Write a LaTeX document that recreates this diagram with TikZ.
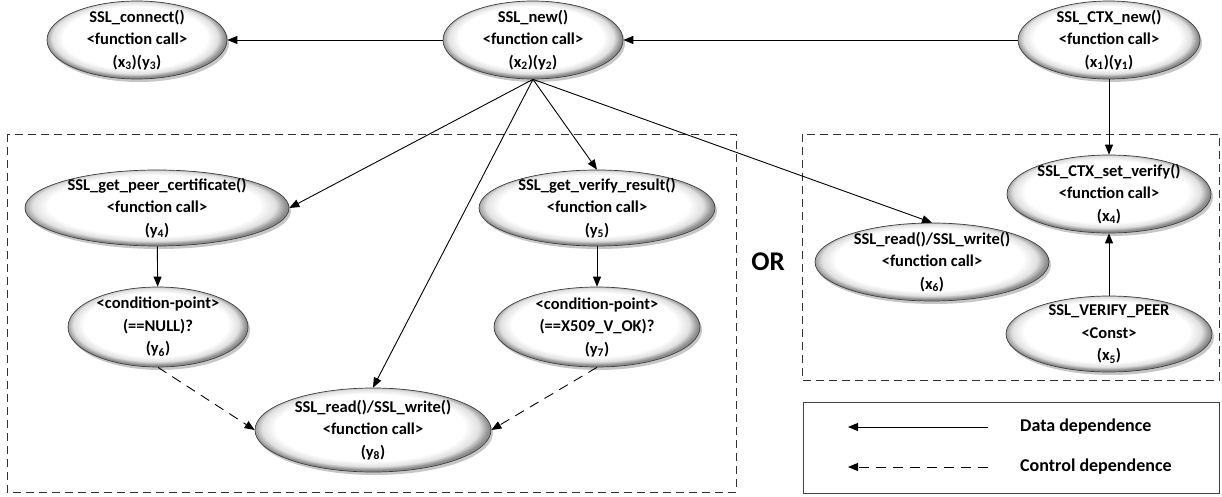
\documentclass[tikz,border=0pt]{standalone}
\usepackage{fontspec}
\setmainfont{Carlito}
\usetikzlibrary{arrows.meta,shapes.geometric,shadows}
\pgfdeclareradialshading{rimshade}{\pgfpoint{-1bp}{2.5bp}}{color(0bp)=(white); color(20bp)=(white); color(23bp)=(black!12); color(25bp)=(black!45); color(50bp)=(black!45)}
\begin{document}
\begin{tikzpicture}[x=1pt,y=-1pt,
  fn/.style={ellipse, shade, shading=rimshade, draw=black!75, line width=0.7pt, inner sep=-45pt, align=center,
    font=\bfseries\fontsize{16.5}{22.5}\selectfont,
    drop shadow={shadow xshift=2pt, shadow yshift=-3pt, opacity=0.45}},
  dep/.style={line width=0.9pt, -{Triangle[length=10pt,width=8pt]}},
  ctl/.style={dep, dash pattern=on 10pt off 7pt},
  region/.style={line width=0.9pt, black!80, dash pattern=on 8pt off 5pt},
  lab/.style={font=\bfseries\fontsize{18}{21}\selectfont, anchor=west, inner sep=0pt}]
\useasboundingbox (0,0) rectangle (1222,497);

% regions
\draw[region] (7,134) rectangle (736,492);
\draw[region] (802,134) rectangle (1219,380);
\draw[line width=0.9pt, black!75] (803,402) rectangle (1219,493);

% nodes
\node[fn, minimum width=180pt, minimum height=78pt] (connect) at (137,40) {SSL\_connect()\\<function call>\\(x\textsubscript{3})(y\textsubscript{3})};
\node[fn, minimum width=180pt, minimum height=78pt] (new) at (533,40) {SSL\_new()\\<function call>\\(x\textsubscript{2})(y\textsubscript{2})};
\node[fn, minimum width=182pt, minimum height=78pt] (ctxnew) at (1109,40) {SSL\_CTX\_new()\\<function call>\\(x\textsubscript{1})(y\textsubscript{1})};

\node[fn, minimum width=264pt, minimum height=76pt] (peer) at (157,208) {SSL\_get\_peer\_certificate()\\<function call>\\(y\textsubscript{4})};
\node[fn, minimum width=236pt, minimum height=76pt] (vres) at (597,208) {SSL\_get\_verify\_result()\\<function call>\\(y\textsubscript{5})};
\node[fn, minimum width=180pt, minimum height=80pt] (cnull) at (158,327) {<condition-point>\\(==NULL)?\\(y\textsubscript{6})};
\node[fn, minimum width=206pt, minimum height=80pt] (cx509) at (597,327) {<condition-point>\\(==X509\_V\_OK)?\\(y\textsubscript{7})};
\node[fn, minimum width=236pt, minimum height=84pt] (rw8) at (373,430) {SSL\_read()/SSL\_write()\\<function call>\\(y\textsubscript{8})};

\node[fn, minimum width=204pt, minimum height=78pt] (setv) at (1109,194) {SSL\_CTX\_set\_verify()\\<function call>\\(x\textsubscript{4})};
\node[fn, minimum width=234pt, minimum height=78pt] (rw6) at (932,262) {SSL\_read()/SSL\_write()\\<function call>\\(x\textsubscript{6})};
\node[fn, minimum width=206pt, minimum height=76pt] (vpeer) at (1109,334) {SSL\_VERIFY\_PEER\\<Const>\\(x\textsubscript{5})};

\node[font=\bfseries\fontsize{27}{30}\selectfont] (or) at (768,262) {OR};

% connectors
\draw[dep] (ctxnew) -- (new);
\draw[dep] (new) -- (connect);
\draw[dep] (ctxnew) -- (setv);
\draw[dep] (vpeer) -- (setv);
\draw[dep] (new.south) -- (peer.east);
\draw[dep] (new.south) -- (vres.north);
\draw[dep] (new.south) -- (rw8.north);
\draw[dep] (new.south) -- (rw6.north);
\draw[dep] (peer) -- (cnull);
\draw[dep] (vres) -- (cx509);
\draw[ctl] (cnull.south) -- (rw8.west);
\draw[ctl] (cx509.south) -- (rw8.east);

% legend
\coordinate (la) at (988,427);
\coordinate (lb) at (848,427);
\coordinate (lc) at (988,467);
\coordinate (ld) at (848,467);
\draw[dep] (la) -- (lb);
\draw[ctl] (lc) -- (ld);
\node[lab] (ldata) at (1020,427) {Data dependence};
\node[lab] (lctl) at (1020,467) {Control dependence};
\end{tikzpicture}
\end{document}
